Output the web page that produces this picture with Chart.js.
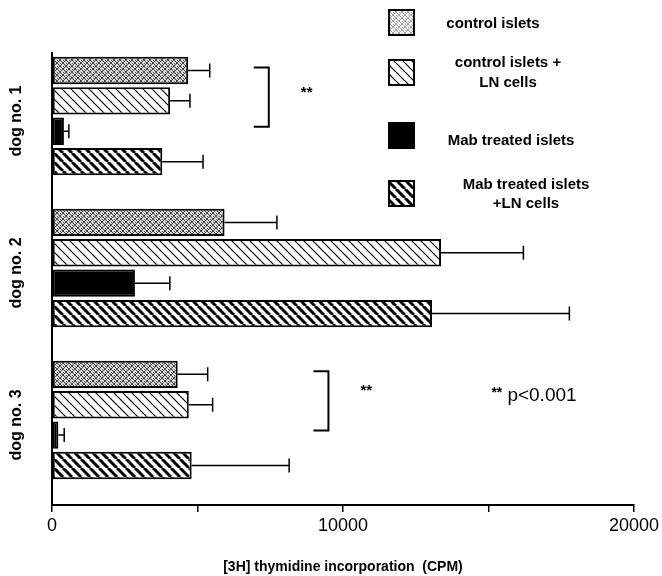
<!DOCTYPE html>
<html>
<head>
<meta charset="utf-8">
<script src="https://cdn.jsdelivr.net/npm/chart.js@4.4.0/dist/chart.umd.min.js"></script>
<style>
  html, body { margin: 0; padding: 0; background: #fff; }
  #wrap { width: 662px; height: 576px; }
</style>
</head>
<body>
<div id="wrap"><canvas id="chart" width="662" height="576"></canvas></div>
<script>
// groups on the y axis
const dogs = ['dog no. 1', 'dog no. 2', 'dog no. 3'];

// mean CPM per group, and the upper error (SD)
const controlIslets = [4680, 5930, 4320];
const controlIsletsErr = [740, 1800, 1030];
const controlLN = [4060, 13370, 4700];
const controlLNErr = [680, 2830, 820];
const mabIslets = [410, 2850, 220];
const mabIsletsErr = [170, 1200, 200];
const mabLN = [3790, 13060, 4800];
const mabLNErr = [1400, 4720, 3350];

const legendLines = [
    ['control islets'],
    ['control islets +', 'LN cells'],
    ['Mab treated islets'],
    ['Mab treated islets', '+LN cells']
];
const xTickLabels = { 0: '0', 10000: '10000', 20000: '20000' };

// significance marks: group, x position in CPM
const brackets = [
    { dog: 1, x: 7450, stars: 8550, starsY: -0.15 },
    { dog: 3, x: 9500, stars: 10600, starsY: -0.19 }
];

const canvas = document.getElementById('chart');
const ctx = canvas.getContext('2d');

function tile(size, draw) {
    const c = document.createElement('canvas');
    c.width = c.height = size;
    draw(c.getContext('2d'), size);
    return c;
}

function hatch(size, width) {
    return tile(size, function (g, s) {
        g.fillStyle = '#fff';
        g.fillRect(0, 0, s, s);
        g.strokeStyle = '#000';
        g.lineWidth = width;
        for (let k = -1; k <= 1; k++) {
            g.beginPath();
            g.moveTo(k * s, 0);
            g.lineTo(k * s + s, s);
            g.stroke();
        }
    });
}

function stipple(light) {
    return tile(6, function (g, s) {
        g.fillStyle = light ? '#f2f2f2' : '#d6d6d6';
        g.fillRect(0, 0, s, s);
        g.strokeStyle = light ? '#999' : '#333';
        g.lineWidth = 0.9;
        g.beginPath();
        g.moveTo(0, 0); g.lineTo(s, s);
        g.moveTo(s, 0); g.lineTo(0, s);
        g.stroke();
        g.fillStyle = light ? '#bbb' : '#666';
        g.fillRect(3, 0, 1, 1);
        g.fillRect(0, 3, 1, 1);
    });
}

const fills = [
    ctx.createPattern(stipple(false), 'repeat'),
    ctx.createPattern(hatch(9, 1.2), 'repeat'),
    '#000',
    ctx.createPattern(hatch(9, 3), 'repeat')
];
const legendFills = [
    ctx.createPattern(stipple(true), 'repeat'),
    fills[1],
    '#000',
    fills[3]
];

const seriesValues = [controlIslets, controlLN, mabIslets, mabLN];
const seriesErrs = [controlIsletsErr, controlLNErr, mabIsletsErr, mabLNErr];

const datasets = seriesValues.map(function (vals, s) {
    return {
        label: legendLines[s].join(' '),
        data: vals.map((v, i) => ({ x: v, y: i + 1 })),
        errs: seriesErrs[s],
        backgroundColor: fills[s],
        borderColor: '#000',
        borderWidth: 2,
        borderSkipped: false,
        categoryPercentage: 0.8,
        barPercentage: 0.9
    };
});

const errorBars = {
    id: 'errorBars',
    afterDatasetsDraw(chart) {
        const x = chart.scales.x;
        const c = chart.ctx;
        c.save();
        c.strokeStyle = '#000';
        c.lineWidth = 1.5;
        chart.data.datasets.forEach(function (ds, d) {
            chart.getDatasetMeta(d).data.forEach(function (bar, i) {
                const end = x.getPixelForValue(ds.data[i].x + ds.errs[i]);
                c.beginPath();
                c.moveTo(bar.x, bar.y);
                c.lineTo(end, bar.y);
                c.moveTo(end, bar.y - 7);
                c.lineTo(end, bar.y + 7);
                c.stroke();
            });
        });
        c.restore();
    }
};

const notes = {
    id: 'notes',
    afterDraw(chart) {
        const x = chart.scales.x;
        const y = chart.scales.y;
        const c = chart.ctx;
        c.save();
        c.fillStyle = '#000';
        c.strokeStyle = '#000';

        // rotated group labels
        c.font = 'bold 16px "Liberation Sans", Arial, sans-serif';
        c.textAlign = 'center';
        c.textBaseline = 'middle';
        dogs.forEach(function (name, i) {
            c.save();
            c.translate(17, y.getPixelForValue(i + 1) + 5);
            c.rotate(-Math.PI / 2);
            c.fillText(name, 0, 0);
            c.restore();
        });

        // brackets and stars
        c.lineWidth = 2;
        brackets.forEach(function (b) {
            const bx = x.getPixelForValue(b.x);
            const top = y.getPixelForValue(b.dog - 0.32);
            const bot = y.getPixelForValue(b.dog + 0.07);
            c.beginPath();
            c.moveTo(bx - 15, top);
            c.lineTo(bx, top);
            c.lineTo(bx, bot);
            c.lineTo(bx - 15, bot);
            c.stroke();
            c.font = 'bold 15px "Liberation Sans", Arial, sans-serif';
            c.textAlign = 'left';
            c.fillText('**', x.getPixelForValue(b.stars), y.getPixelForValue(b.dog + b.starsY));
        });

        // p value note
        const py = y.getPixelForValue(3 - 0.16);
        c.font = 'bold 14px "Liberation Sans", Arial, sans-serif';
        c.textAlign = 'left';
        c.fillText('**', x.getPixelForValue(15100), py - 2);
        c.font = '19px "Liberation Sans", Arial, sans-serif';
        c.fillText('p<0.001', x.getPixelForValue(15650), py);

        // legend
        const boxTops = [10, 60, 123, 181];
        const textCenters = [493, 508, 511, 526];
        const lineYs = [[24], [63, 83], [141], [185, 204]];
        c.font = 'bold 15px "Liberation Sans", Arial, sans-serif';
        c.textAlign = 'center';
        legendLines.forEach(function (lines, s) {
            c.fillStyle = legendFills[s];
            c.fillRect(389, boxTops[s], 25, 25);
            c.lineWidth = 2;
            c.strokeRect(389, boxTops[s], 25, 25);
            c.fillStyle = '#000';
            lines.forEach(function (t, k) {
                c.fillText(t, textCenters[s], lineYs[s][k]);
            });
        });
        c.restore();
    }
};

new Chart(ctx, {
    type: 'bar',
    data: { datasets: datasets },
    options: {
        indexAxis: 'y',
        responsive: false,
        animation: false,
        layout: { padding: { top: 53, right: 24, left: 0, bottom: 0 } },
        scales: {
            x: {
                type: 'linear',
                min: 0,
                max: 20000,
                ticks: {
                    stepSize: 5000,
                    color: '#000',
                    padding: 3,
                    maxRotation: 0,
                    font: { family: '"Liberation Sans", Arial, sans-serif', size: 18 },
                    callback: v => xTickLabels[v] || ''
                },
                grid: { drawOnChartArea: false, drawTicks: true, tickLength: 7, color: '#000', lineWidth: 1.5 },
                border: { display: true, color: '#000', width: 2 },
                title: {
                    display: true,
                    text: '[3H] thymidine incorporation  (CPM)',
                    color: '#000',
                    font: { family: '"Liberation Sans", Arial, sans-serif', size: 14, weight: 'bold' },
                    padding: { top: 10, bottom: 0 }
                },
                afterFit: s => { s.height = 71; }
            },
            y: {
                type: 'linear',
                reverse: true,
                offset: false,
                min: 0.585,
                max: 3.56,
                ticks: { display: false },
                grid: { display: false, offset: false },
                border: { display: true, color: '#000', width: 2 },
                afterBuildTicks: s => { s.ticks = dogs.map((d, i) => ({ value: i + 1 })); },
                afterFit: s => { s.width = 52; }
            }
        },
        plugins: {
            legend: { display: false },
            tooltip: { enabled: false }
        }
    },
    plugins: [errorBars, notes]
});
</script>
</body>
</html>
